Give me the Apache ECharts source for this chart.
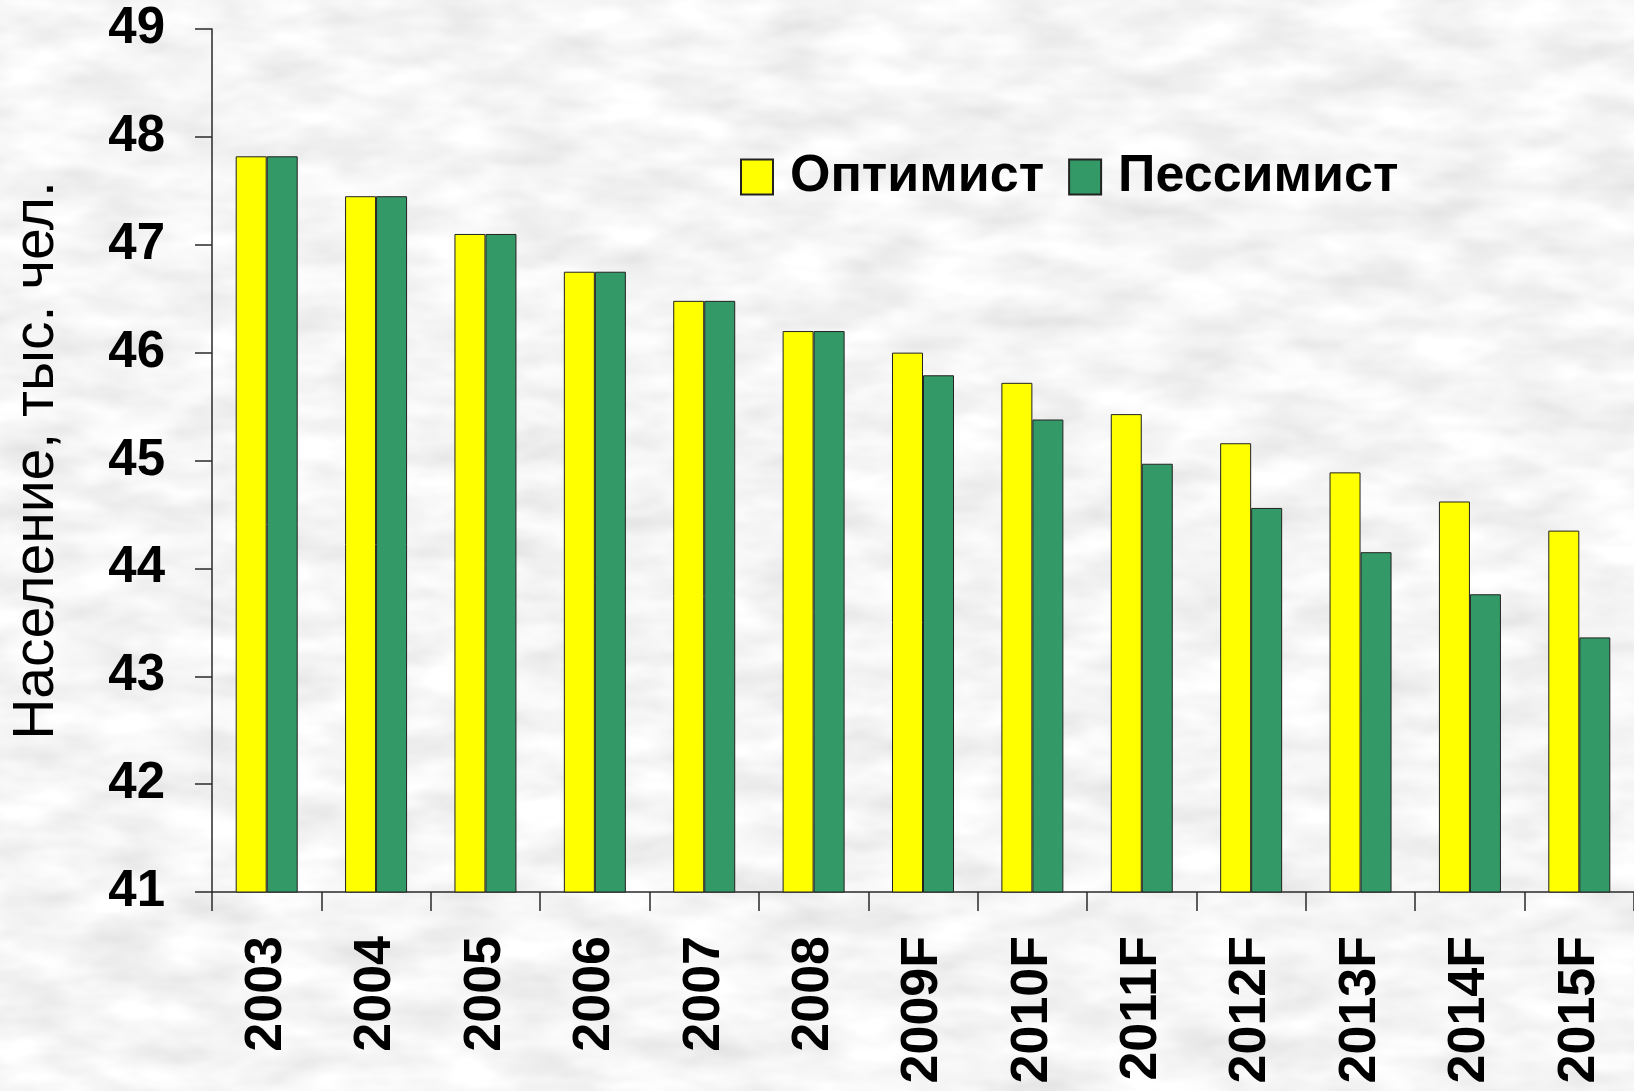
<!DOCTYPE html>
<html>
<head>
<meta charset="utf-8">
<script src="https://cdn.jsdelivr.net/npm/echarts@6/dist/echarts.min.js"></script>
<style>
  html, body { margin: 0; padding: 0; }
  body {
    background-color: #ebebeb;
    background-image: url("data:image/svg+xml;utf8,<svg xmlns='http://www.w3.org/2000/svg' width='1634' height='1091'><filter id='n'><feTurbulence type='fractalNoise' baseFrequency='0.012 0.03' numOctaves='3' seed='7'/><feColorMatrix values='0.35 0 0 0 0.74  0.35 0 0 0 0.74  0.35 0 0 0 0.74  0 0 0 0 1'/></filter><rect width='100%' height='100%' filter='url(%23n)'/></svg>");
  }
  #chart { width: 1634px; height: 1091px; }
</style>
</head>
<body>
<div id="chart"></div>
<script>
// years, forecast years marked with F
const years = ['2003', '2004', '2005', '2006', '2007', '2008',
  '2009F', '2010F', '2011F', '2012F', '2013F', '2014F', '2015F']

const optimist = [47.82, 47.45, 47.1, 46.75, 46.48, 46.2, 46.0, 45.72, 45.43, 45.16, 44.89, 44.62, 44.35]
const pessimist = [47.82, 47.45, 47.1, 46.75, 46.48, 46.2, 45.79, 45.38, 44.97, 44.56, 44.15, 43.76, 43.36]

const yMin = 41
const yMax = 49

const FONT = '"Liberation Sans", Arial, sans-serif'
const AXIS_COLOR = '#2a2a2a'

const chart = echarts.init(document.getElementById('chart'), null, { renderer: 'canvas' })

chart.setOption({
  backgroundColor: 'transparent',
  animation: false,
  textStyle: { fontFamily: FONT, color: '#000' },
  legend: {
    left: 735,
    top: 146,
    itemWidth: 32,
    itemHeight: 35,
    itemGap: 24,
    icon: 'rect',
    textStyle: {
      fontSize: 52,
      fontWeight: 'bold',
      color: '#000',
      padding: [0, 0, 0, 12]
    },
    data: ['Оптимист', 'Пессимист']
  },
  grid: {
    left: 212,
    top: 29,
    width: 1430,
    height: 863,
    containLabel: false
  },
  xAxis: {
    type: 'category',
    data: years,
    boundaryGap: true,
    axisLine: { lineStyle: { color: AXIS_COLOR, width: 1.5 } },
    axisTick: {
      show: true,
      length: 19,
      alignWithLabel: false,
      lineStyle: { color: AXIS_COLOR, width: 1.5 }
    },
    axisLabel: {
      rotate: 90,
      margin: 44,
      fontSize: 52,
      fontWeight: 'bold',
      color: '#000',
      interval: 0,
      padding: [10, 0, 0, 0]
    }
  },
  yAxis: {
    type: 'value',
    min: yMin,
    max: yMax,
    interval: 1,
    name: 'Население, тыс. чел.',
    nameLocation: 'middle',
    nameGap: 146,
    nameTextStyle: { fontSize: 57, color: '#000' },
    axisLine: { show: true, lineStyle: { color: AXIS_COLOR, width: 1.5 } },
    axisTick: { show: true, length: 17, lineStyle: { color: AXIS_COLOR, width: 1.5 } },
    splitLine: { show: false },
    axisLabel: {
      margin: 47,
      fontSize: 51,
      fontWeight: 'bold',
      color: '#000'
    }
  },
  series: [
    {
      name: 'Оптимист',
      type: 'bar',
      data: optimist,
      barWidth: 31,
      barGap: '0%',
      itemStyle: { color: '#ffff00', borderColor: '#222', borderWidth: 1 }
    },
    {
      name: 'Пессимист',
      type: 'bar',
      data: pessimist,
      barWidth: 31,
      barGap: '0%',
      itemStyle: { color: '#339966', borderColor: '#222', borderWidth: 1 }
    }
  ]
})
</script>
</body>
</html>
